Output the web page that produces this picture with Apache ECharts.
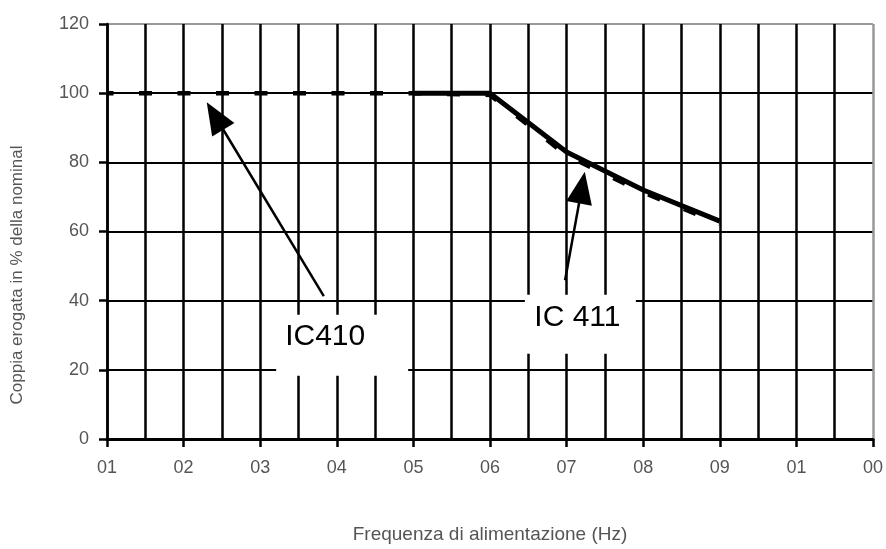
<!DOCTYPE html>
<html>
<head>
<meta charset="utf-8">
<script src="https://cdn.jsdelivr.net/npm/echarts@6/dist/echarts.min.js"></script>
<style>
  html, body { margin: 0; padding: 0; background: #fff; }
  #chart { width: 886px; height: 549px; }
</style>
</head>
<body>
<div id="chart"></div>
<script>
// etichette asse x come nel grafico originale
const xLabels = ['01', '02', '03', '04', '05', '06', '07', '08', '09', '01', '00'];
const xValues = [10, 20, 30, 40, 50, 60, 70, 80, 90, 100, 110];

// IC410 (tratteggiata)
const ic410X = [10, 50, 60, 70, 80, 90];
const ic410Y = [100, 100, 99.5, 82, 71.3, 62.3];

// IC411 (continua)
const ic411X = [50, 60, 70, 80, 90];
const ic411Y = [100, 100, 83, 72, 63];

// frecce e riquadri delle etichette
const arrow410 = [[38.3, 41.3], [24.1, 93.4]];
const arrow411 = [[69.8, 45.9], [72.0, 72.7]];
const box410 = [40.7, 27.1];
const box411 = [71.8, 33.2];

const pair = (xs, ys) => xs.map((x, i) => [x, ys[i]]);

const mychart = echarts.init(document.getElementById('chart'));
const grey = '#555';
const font = 'Liberation Sans, Arial, sans-serif';

const vColors = xValues.map((v, i) => i === xValues.length - 1 ? '#999' : '#000');
const yTicks = [0, 20, 40, 60, 80, 100, 120];
const hColors = yTicks.map((v, i) => i === yTicks.length - 1 ? '#999' : '#000');

const option = {
  animation: false,
  grid: { left: 107, right: 8, top: 24, bottom: 107 },
  xAxis: {
    type: 'value',
    min: 10,
    max: 110,
    interval: 10,
    name: 'Frequenza di alimentazione (Hz)',
    nameLocation: 'middle',
    nameGap: 86,
    nameTextStyle: { color: grey, fontSize: 19, fontFamily: font },
    axisLine: { show: true, lineStyle: { color: '#000', width: 3 } },
    axisTick: { show: true, length: 8, lineStyle: { color: '#000', width: 2.5 } },
    axisLabel: {
      color: grey, fontSize: 18, fontFamily: font, margin: 20,
      formatter: v => xLabels[Math.round((v - 10) / 10)]
    },
    splitLine: { show: true, lineStyle: { color: vColors, width: 2.5 } },
    minorTick: { show: false, splitNumber: 2 },
    minorSplitLine: { show: true, lineStyle: { color: '#000', width: 2.5 } }
  },
  yAxis: {
    type: 'value',
    min: 0,
    max: 120,
    interval: 20,
    axisLine: { show: true, lineStyle: { color: '#000', width: 2.5 } },
    axisTick: { show: true, length: 8, lineStyle: { color: '#000', width: 2.5 } },
    axisLabel: { color: grey, fontSize: 18, fontFamily: font, margin: 18 },
    splitLine: { show: true, lineStyle: { color: hColors, width: 2 } }
  },
  graphic: [{
    type: 'text',
    x: 17,
    y: 275,
    rotation: Math.PI / 2,
    style: {
      text: 'Coppia erogata in % della nominal',
      fill: grey,
      fontSize: 17,
      fontFamily: font,
      textAlign: 'center',
      textVerticalAlign: 'middle'
    }
  }],
  series: [
    {
      name: 'IC410',
      type: 'line',
      data: pair(ic410X, ic410Y),
      symbol: 'none',
      z: 3,
      lineStyle: { color: '#000', width: 4.5, type: [13, 25.5], dashOffset: 6.5 }
    },
    {
      name: 'IC411',
      type: 'line',
      data: pair(ic411X, ic411Y),
      symbol: 'none',
      z: 4,
      lineStyle: { color: '#000', width: 5 },
      markPoint: {
        symbol: 'rect',
        silent: true,
        itemStyle: { color: '#fff' },
        label: {
          show: true, color: '#000', fontSize: 30, fontFamily: font
        },
        data: [
          { coord: box410, symbolSize: [132, 61], label: { formatter: 'IC410', offset: [-17, -9] } },
          { coord: box411, symbolSize: [111, 59], label: { formatter: 'IC 411', offset: [-3, -6] } }
        ]
      },
      markLine: {
        silent: true,
        symbol: ['none', 'triangle'],
        symbolSize: [26, 32],
        label: { show: false },
        lineStyle: { color: '#000', width: 2.5, type: 'solid' },
        data: [
          [{ coord: arrow410[0] }, { coord: arrow410[1] }],
          [{ coord: arrow411[0] }, { coord: arrow411[1] }]
        ]
      }
    }
  ]
};
mychart.setOption(option);
</script>
</body>
</html>
